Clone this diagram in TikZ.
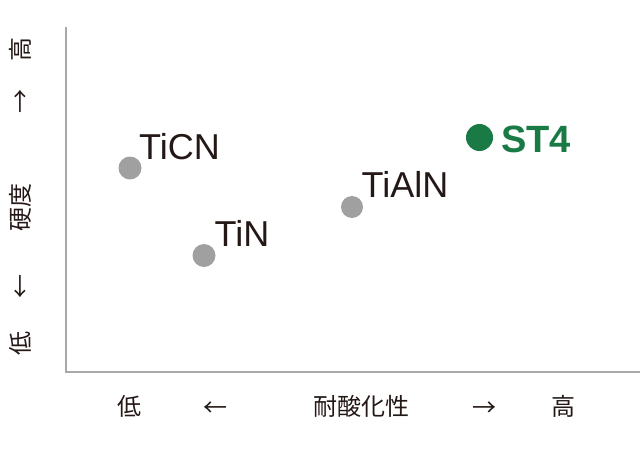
\documentclass[tikz,border=0pt]{standalone}
\usepackage{fontspec}
\setmainfont{Liberation Sans}
\newfontfamily\cjk{Noto Sans CJK JP}
\definecolor{txtdark}{HTML}{231815}
\definecolor{dotgray}{HTML}{A0A0A0}
\definecolor{axisgray}{HTML}{A8A8A8}
\definecolor{stgreen}{RGB}{26,122,69}
\begin{document}
\begin{tikzpicture}[x=1pt,y=-1pt,
  cjklabel/.style={inner sep=0pt,text=txtdark,font=\cjk\fontsize{24}{24}\selectfont,text height=21.12pt,text depth=2.88pt,anchor=center},
  yaxlabel/.style={cjklabel,rotate=90},
  dot/.style={circle,fill=dotgray,inner sep=0pt,minimum size=23pt},
  coatlabel/.style={inner sep=0pt,anchor=base west,text=txtdark,font=\fontsize{36}{36}\selectfont},
  axisline/.style={draw=axisgray,line width=1.5pt}]
\useasboundingbox (0,0) rectangle (640,466);
% axes
\coordinate (ytop) at (66,27);
\coordinate (origin) at (66,372);
\coordinate (xend) at (640,372);
\draw[axisline] (ytop) -- (origin) -- (xend);
% y-axis label
\node[yaxlabel] (ylow) at (20,343) {低};
\node[yaxlabel] (ylarrow) at (20,286) {←};
\node[yaxlabel] (ytitle) at (20,207) {硬度};
\node[yaxlabel] (yrarrow) at (20,101) {→};
\node[yaxlabel] (yhigh) at (20,49) {高};
% x-axis label
\node[cjklabel] (xlow) at (129,406) {低};
\node[cjklabel] (xlarrow) at (215,407) {←};
\node[cjklabel] (xtitle) at (361,406) {耐酸化性};
\node[cjklabel] (xrarrow) at (484,407) {→};
\node[cjklabel] (xhigh) at (563.5,406) {高};
% points
\node[dot] (ticn) at (130,168) {};
\node[coatlabel] (ticnlabel) at (139,159) {TiCN};
\node[dot] (tin) at (204,255.5) {};
\node[coatlabel] (tinlabel) at (214.5,246) {TiN};
\node[dot,minimum size=22pt] (tialn) at (352,207) {};
\node[coatlabel] (tialnlabel) at (361.5,197) {TiAlN};
\node[circle,fill=stgreen,inner sep=0pt,minimum size=27pt] (st4) at (479.5,137.5) {};
\node[inner sep=0pt,anchor=base west,text=stgreen,font=\bfseries\fontsize{38}{38}\selectfont] (st4label) at (501,152.5) {ST4};
\end{tikzpicture}
\end{document}
